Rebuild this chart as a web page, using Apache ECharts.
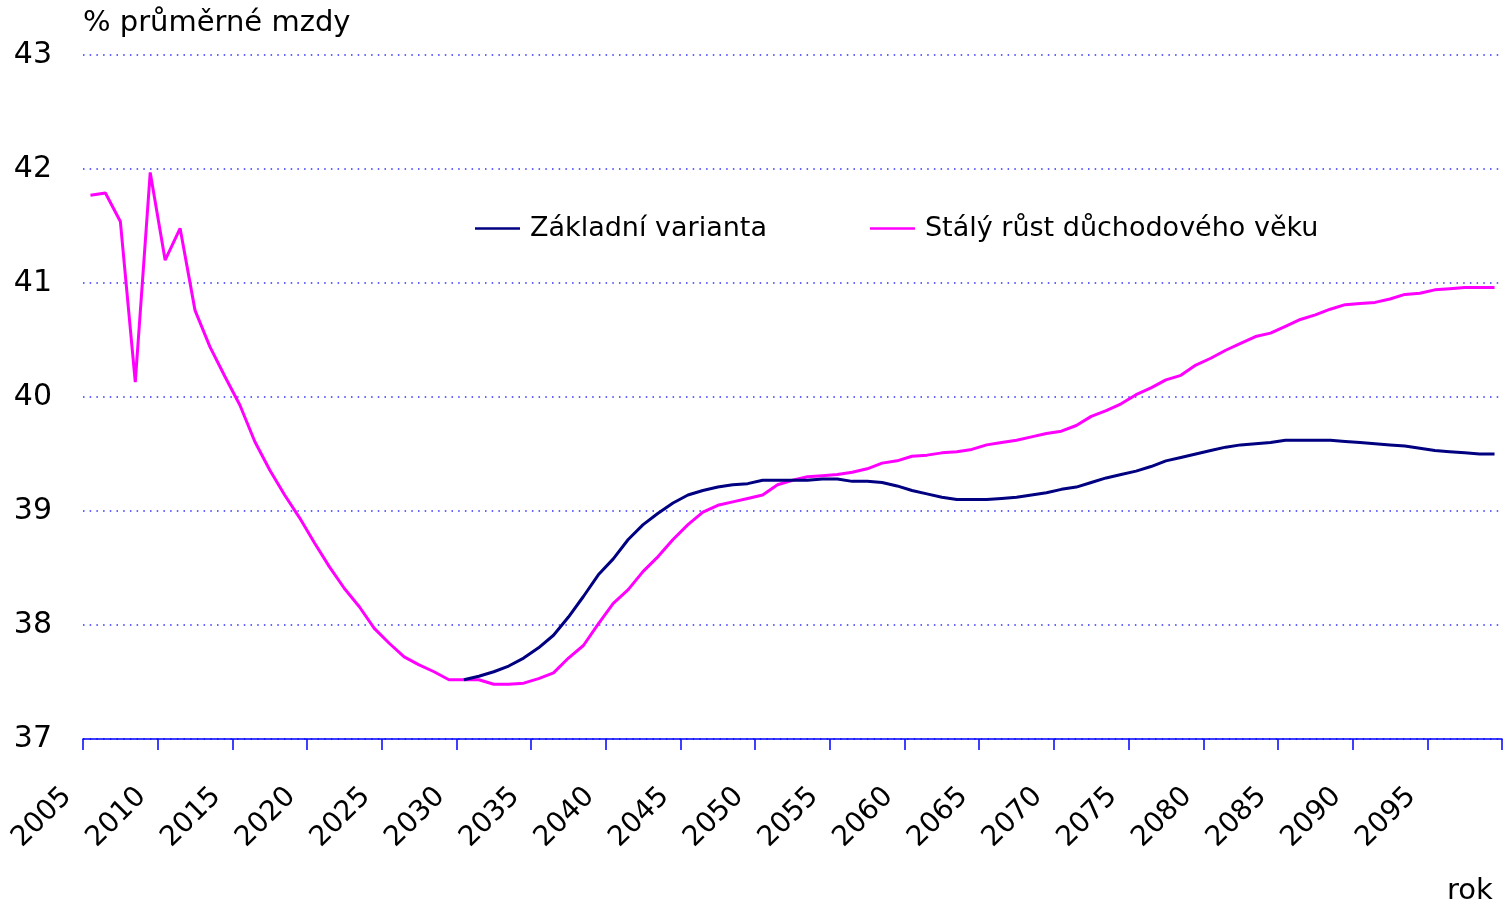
<!DOCTYPE html>
<html>
<head>
<meta charset="utf-8">
<script src="https://cdn.jsdelivr.net/npm/echarts@6/dist/echarts.min.js"></script>
<style>
  html, body { margin: 0; padding: 0; background: #fff; }
  #chart { width: 1509px; height: 910px; }
</style>
</head>
<body>
<div id="chart"></div>
<script>
// roky 2005 - 2099
var years = [];
for (var y = 2005; y <= 2099; y++) years.push(String(y));

// Základní varianta (do 2030 splývá s druhou variantou)
var zakladni = [
  null, null, null, null, null, null, null, null, null, null,
  null, null, null, null, null, null, null, null, null, null,
  null, null, null, null, null,
  37.52, 37.55, 37.59, 37.64, 37.71, 37.80, 37.91, 38.07, 38.25, 38.44,
  38.58, 38.75, 38.88, 38.98, 39.07, 39.14, 39.18, 39.21, 39.23, 39.24,
  39.27, 39.27, 39.27, 39.27, 39.28, 39.28, 39.26, 39.26, 39.25, 39.22,
  39.18, 39.15, 39.12, 39.10, 39.10, 39.10, 39.11, 39.12, 39.14, 39.16,
  39.19, 39.21, 39.25, 39.29, 39.32, 39.35, 39.39, 39.44, 39.47, 39.50,
  39.53, 39.56, 39.58, 39.59, 39.60, 39.62, 39.62, 39.62, 39.62, 39.61,
  39.60, 39.59, 39.58, 39.57, 39.55, 39.53, 39.52, 39.51, 39.50, 39.50
];

// Stálý růst důchodového věku
var staly = [
  41.77, 41.79, 41.54, 40.13, 41.97, 41.20, 41.48, 40.76, 40.44, 40.18,
  39.93, 39.61, 39.36, 39.14, 38.94, 38.72, 38.51, 38.32, 38.16, 37.97,
  37.84, 37.72, 37.65, 37.59, 37.52,
  37.52, 37.52, 37.48, 37.48, 37.49, 37.53, 37.58, 37.71, 37.82, 38.01,
  38.19, 38.31, 38.47, 38.60, 38.75, 38.88, 38.99, 39.05, 39.08, 39.11,
  39.14, 39.23, 39.27, 39.30, 39.31, 39.32, 39.34, 39.37, 39.42, 39.44,
  39.48, 39.49, 39.51, 39.52, 39.54, 39.58, 39.60, 39.62, 39.65, 39.68,
  39.70, 39.75, 39.83, 39.88, 39.94, 40.02, 40.08, 40.15, 40.19, 40.28,
  40.34, 40.41, 40.47, 40.53, 40.56, 40.62, 40.68, 40.72, 40.77, 40.81,
  40.82, 40.83, 40.86, 40.90, 40.91, 40.94, 40.95, 40.96, 40.96, 40.96
];

var font = "DejaVu Sans";
var chart = echarts.init(document.getElementById("chart"));

var option = {
  animation: false,
  backgroundColor: "#fff",
  title: [
    {
      text: "% průměrné mzdy",
      left: 78,
      top: 4,
      textStyle: { fontFamily: font, fontSize: 29, fontWeight: "normal", color: "#000" },
    },
    {
      text: "rok",
      left: 1442,
      top: 872,
      textStyle: { fontFamily: font, fontSize: 29, fontWeight: "normal", color: "#000" },
    },
  ],
  legend: {
    left: 470,
    top: 210,
    itemWidth: 45,
    itemHeight: 2.5,
    itemGap: 103,
    icon: "rect",
    textStyle: { fontFamily: font, fontSize: 27, color: "#000", padding: [0, 0, 0, 5] },
    data: ["Základní varianta", "Stálý růst důchodového věku"],
  },
  grid: { left: 83, right: 7, top: 55, bottom: 171 },
  xAxis: {
    type: "category",
    data: years,
    boundaryGap: true,
    axisLine: { show: true, lineStyle: { color: "#0000ff", width: 1.5 } },
    axisTick: { show: true, interval: 4, length: 11, lineStyle: { color: "#0000ff", width: 1.5 } },
    axisLabel: {
      interval: 4,
      rotate: 45,
      margin: 30,
      padding: [0, 33, 0, 0],
      fontFamily: font,
      fontSize: 28,
      color: "#000",
    },
    splitLine: { show: false },
  },
  yAxis: {
    type: "value",
    min: 37,
    max: 43,
    interval: 1,
    axisLine: { show: false },
    axisTick: { show: false },
    axisLabel: { margin: 31, fontFamily: font, fontSize: 30, color: "#000" },
    splitLine: { lineStyle: { color: "#3030ff", width: 1.5, type: [1.5, 5.2] } },
  },
  series: [
    {
      name: "Základní varianta",
      type: "line",
      data: zakladni,
      symbol: "none",
      z: 3,
      itemStyle: { color: "#000080" },
      lineStyle: { color: "#000080", width: 3 },
    },
    {
      name: "Stálý růst důchodového věku",
      type: "line",
      data: staly,
      symbol: "none",
      z: 2,
      itemStyle: { color: "#ff00ff" },
      lineStyle: { color: "#ff00ff", width: 3 },
    },
  ],
};

chart.setOption(option);
</script>
</body>
</html>
